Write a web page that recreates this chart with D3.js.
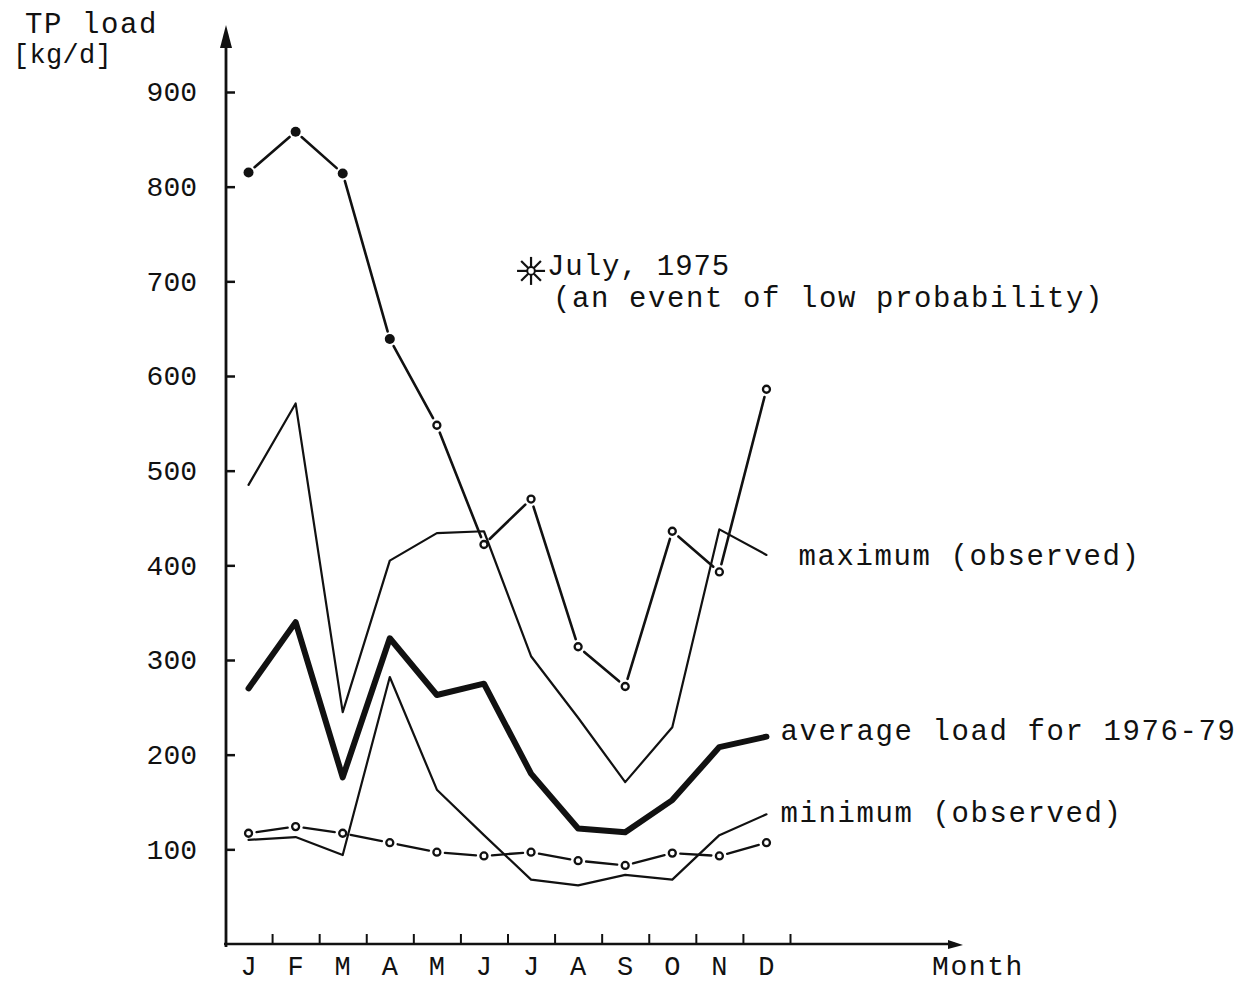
<!DOCTYPE html>
<html>
<head>
<meta charset="utf-8">
<script src="https://cdn.jsdelivr.net/npm/d3@7"></script>
<style>
	body { margin: 0; background: #fff; }
	svg text { font-family: "Liberation Mono", "DejaVu Sans Mono", monospace; fill: #111; }
</style>
</head>
<body>
<svg id="chart" width="1242" height="983"></svg>
<script>
// values (TP load, kg/d)
var months = ["J", "F", "M", "A", "M", "J", "J", "A", "S", "O", "N", "D"];
var yTicks = [100, 200, 300, 400, 500, 600, 700, 800, 900];

var upperSeries = [815, 858, 814, 639, 548, 422, 470, 314, 272, 436, 393, 586];
var maxObserved = [485, 571, 245, 405, 434, 436, 304, 239, 171, 229, 438, 411];
var avgLoad     = [270, 340, 176, 323, 263, 275, 180, 122, 118, 152, 208, 219];
var minObserved = [110, 113,  94, 282, 163, 115,  68,  62,  73,  68, 115, 137];
var lowerSeries = [117, 124, 117, 107,  97,  93,  97,  88,  83,  96,  93, 107];

var eventMonth = 6, eventValue = 711;  // July, 1975

var svg = d3.select("#chart"),
	ink = "#111";

var xb = d3.scaleLinear().domain([0, 12]).range([225, 790]);
var y = d3.scaleLinear().domain([0, 900]).range([944, 92]);

function cx(i) { return xb(i + 0.5); }

// ---- axes ----
var yAxis = svg.append("g")
	.attr("transform", "translate(226,0)")
	.call(d3.axisLeft(y).tickValues(yTicks).tickSize(-9).tickPadding(29));
yAxis.select(".domain").remove();
yAxis.selectAll("line").attr("stroke", ink).attr("stroke-width", 2.5);
yAxis.selectAll("text").attr("font-size", 28).attr("fill", ink)
	.style("font-family", "Liberation Mono, monospace");

var xAxis = svg.append("g")
	.attr("transform", "translate(0," + y(0) + ")")
	.call(d3.axisBottom(xb).tickValues(d3.range(1, 13)).tickSize(-10).tickFormat(""));
xAxis.select(".domain").remove();
xAxis.selectAll("line").attr("stroke", ink).attr("stroke-width", 2);

svg.append("line")
	.attr("x1", 226).attr("x2", 226)
	.attr("y1", y(0) + 3).attr("y2", 40)
	.attr("stroke", ink).attr("stroke-width", 2.8);
svg.append("path")
	.attr("d", "M226,25 L220,48 L232,48 Z")
	.attr("fill", ink);

svg.append("line")
	.attr("x1", 224).attr("x2", 955)
	.attr("y1", y(0)).attr("y2", y(0))
	.attr("stroke", ink).attr("stroke-width", 2.4);
svg.append("path")
	.attr("d", "M963," + (y(0) + 1) + " L948," + (y(0) - 4) + " L948," + (y(0) + 5) + " Z")
	.attr("fill", ink);

svg.append("g").selectAll("text")
	.data(months)
	.enter().append("text")
	.attr("x", function (d, i) { return cx(i); })
	.attr("y", y(0) + 31)
	.attr("text-anchor", "middle")
	.attr("font-size", 27)
	.text(function (d) { return d; });

function label(txt, x, yy, size, spacing) {
	svg.append("text")
		.attr("x", x).attr("y", yy)
		.attr("font-size", size)
		.attr("letter-spacing", spacing)
		.style("white-space", "pre")
		.text(txt);
}

label("TP load", 25, 33, 29, 1.6);
label("[kg/d]", 13, 63, 27, 0.3);
label("Month", 932, y(0) + 31, 28, 1.6);

// ---- series ----
var lineGen = d3.line()
	.x(function (d, i) { return cx(i); })
	.y(function (d) { return y(d); });

function plain(values, width) {
	svg.append("path")
		.datum(values)
		.attr("d", lineGen)
		.attr("fill", "none")
		.attr("stroke", ink)
		.attr("stroke-width", width)
		.attr("stroke-linejoin", "round")
		.attr("stroke-linecap", "round");
}

// segments between markers, stopping short of each marker
function gapped(values, gap, width) {
	var segs = [];
	for (var i = 0; i < values.length - 1; i++) {
		var x1 = cx(i), y1 = y(values[i]), x2 = cx(i + 1), y2 = y(values[i + 1]);
		var len = Math.hypot(x2 - x1, y2 - y1), ux = (x2 - x1) / len, uy = (y2 - y1) / len;
		segs.push([x1 + ux * gap, y1 + uy * gap, x2 - ux * gap, y2 - uy * gap]);
	}
	svg.append("g").selectAll("line")
		.data(segs)
		.enter().append("line")
		.attr("x1", function (d) { return d[0]; })
		.attr("y1", function (d) { return d[1]; })
		.attr("x2", function (d) { return d[2]; })
		.attr("y2", function (d) { return d[3]; })
		.attr("stroke", ink)
		.attr("stroke-width", width)
		.attr("stroke-linecap", "round");
}

function markers(values, filledCount) {
	svg.append("g").selectAll("circle")
		.data(values)
		.enter().append("circle")
		.attr("cx", function (d, i) { return cx(i); })
		.attr("cy", function (d) { return y(d); })
		.attr("r", function (d, i) { return i < filledCount ? 5 : 3.5; })
		.attr("fill", function (d, i) { return i < filledCount ? ink : "#fff"; })
		.attr("stroke", ink)
		.attr("stroke-width", function (d, i) { return i < filledCount ? 0 : 2.3; });
}

plain(maxObserved, 2.2);
plain(minObserved, 2.2);
plain(avgLoad, 6);

gapped(upperSeries, 8, 2.6);
markers(upperSeries, 4);

gapped(lowerSeries, 8, 2.3);
markers(lowerSeries, 0);

// ---- July 1975 event ----
var ex = cx(eventMonth), ey = y(eventValue);
svg.append("g").selectAll("line")
	.data(d3.range(8))
	.enter().append("line")
	.attr("x1", function (d) { return ex + 4 * Math.cos(d * Math.PI / 4); })
	.attr("y1", function (d) { return ey + 4 * Math.sin(d * Math.PI / 4); })
	.attr("x2", function (d) { return ex + 14 * Math.cos(d * Math.PI / 4); })
	.attr("y2", function (d) { return ey + 14 * Math.sin(d * Math.PI / 4); })
	.attr("stroke", ink)
	.attr("stroke-width", 2.2);
svg.append("circle")
	.attr("cx", ex).attr("cy", ey).attr("r", 3.8)
	.attr("fill", "#fff").attr("stroke", ink).attr("stroke-width", 2);

label("July, 1975", ex + 16, ey + 4, 29, 0.9);
label("(an event of low probability)", ex + 22, ey + 36, 29, 1.6);

// ---- line labels ----
var last = months.length - 1;
label("maximum (observed)", cx(last) + 32, y(maxObserved[last]) + 10, 29, 1.6);
label("average load for 1976-79", cx(last) + 14, y(avgLoad[last]) + 3, 29, 1.6);
label("minimum (observed)", cx(last) + 14, y(minObserved[last]) + 8, 29, 1.6);
</script>
</body>
</html>
